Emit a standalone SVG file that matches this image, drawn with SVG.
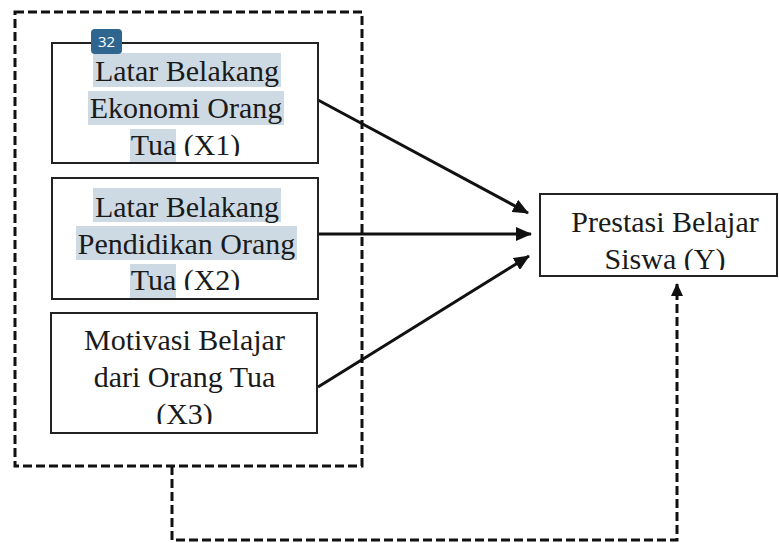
<svg xmlns="http://www.w3.org/2000/svg" width="779" height="543" viewBox="0 0 779 543">
<style>
.box{fill:#fff;stroke:#222;stroke-width:2}
.t{font-family:"Liberation Serif","Times New Roman",serif;font-size:30px;fill:#1a1a1a;text-anchor:middle}
.hl{fill:#cddae4}
.dash{fill:none;stroke:#111;stroke-width:3;stroke-dasharray:9 4}
.arr{fill:none;stroke:#111;stroke-width:3}
</style>
<defs>
<marker id="ah" markerUnits="userSpaceOnUse" markerWidth="16" markerHeight="14" refX="15" refY="7" orient="auto">
<path d="M0,0 L16,7 L0,14 Z" fill="#111"/>
</marker>
<marker id="ah2" markerUnits="userSpaceOnUse" markerWidth="13" markerHeight="12" refX="12" refY="6" orient="auto">
<path d="M0,0 L13,6 L0,12 Z" fill="#111"/>
</marker>
<clipPath id="c1"><rect x="52" y="43" width="266" height="113"/></clipPath>
<clipPath id="c2"><rect x="52" y="178" width="266" height="112"/></clipPath>
<clipPath id="c3"><rect x="51" y="313" width="266" height="111"/></clipPath>
<clipPath id="cy"><rect x="540" y="194" width="238" height="76"/></clipPath>
</defs>

<rect id="group-box" class="dash" x="15" y="12" width="347" height="454"/>

<g id="connectors">
<line class="arr" x1="318" y1="100" x2="528" y2="213" marker-end="url(#ah)"/>
<line class="arr" x1="318" y1="234" x2="531" y2="234" marker-end="url(#ah)"/>
<line class="arr" x1="318" y1="387" x2="529" y2="256" marker-end="url(#ah)"/>
<path class="dash" d="M172,466 V540 H677 V284" marker-end="url(#ah2)"/>
</g>

<g id="x1">
<rect class="box" x="52" y="43" width="266" height="120"/>
<rect class="hl" x="93" y="53" width="188" height="34"/>
<rect class="hl" x="88" y="91" width="196" height="34"/>
<rect class="hl" x="130" y="129" width="46" height="33"/>
<g clip-path="url(#c1)">
<text class="t" x="187" y="81">Latar Belakang</text>
<text class="t" x="186" y="118">Ekonomi Orang</text>
<text class="t" x="185.5" y="155">Tua (X1)</text>
</g>
</g>

<g id="badge">
<rect x="91" y="29" width="31" height="25" rx="4" fill="#2f6690"/>
<text x="106.5" y="47" font-family="'Open Sans','Noto Sans',sans-serif" font-size="15" fill="#fff" text-anchor="middle">32</text>
</g>

<g id="x2">
<rect class="box" x="52" y="178" width="266" height="121"/>
<rect class="hl" x="93" y="188" width="188" height="34"/>
<rect class="hl" x="76" y="226" width="221" height="34"/>
<rect class="hl" x="130" y="264" width="46" height="34"/>
<g clip-path="url(#c2)">
<text class="t" x="187" y="217">Latar Belakang</text>
<text class="t" x="186.5" y="253.5">Pendidikan Orang</text>
<text class="t" x="185.5" y="290">Tua (X2)</text>
</g>
</g>

<g id="x3">
<rect class="box" x="51" y="313" width="266" height="120"/>
<g clip-path="url(#c3)">
<text class="t" x="184.5" y="350">Motivasi Belajar</text>
<text class="t" x="184.5" y="387">dari Orang Tua</text>
<text class="t" x="184.5" y="424">(X3)</text>
</g>
</g>

<g id="y">
<rect class="box" x="540" y="194" width="237" height="82"/>
<g clip-path="url(#cy)">
<text class="t" x="665" y="232">Prestasi Belajar</text>
<text class="t" x="665" y="269">Siswa (Y)</text>
</g>
</g>
</svg>
